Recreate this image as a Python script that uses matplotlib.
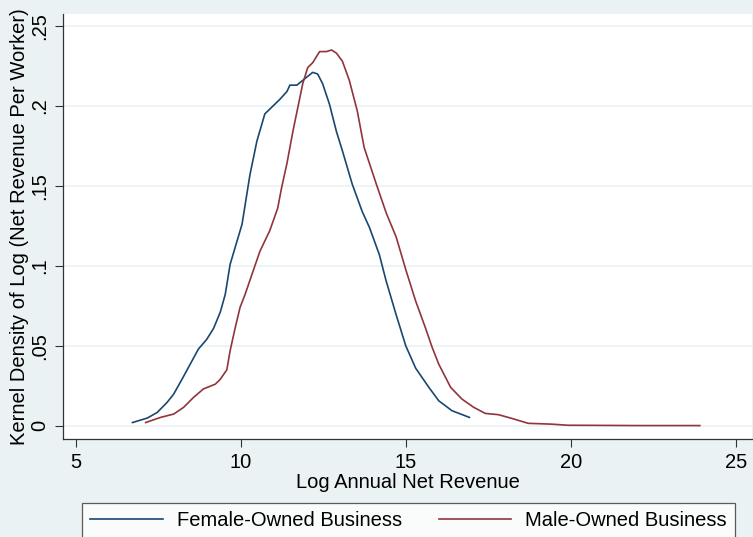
import numpy as np
import matplotlib.pyplot as plt

plt.rcParams['font.family'] = ['Liberation Sans', 'DejaVu Sans']

# female-owned density
fem_x = [6.71, 7.16, 7.46, 7.76, 7.96, 8.21, 8.46, 8.71, 8.96, 9.17, 9.37, 9.52,
         9.67, 10.03, 10.27, 10.48, 10.72, 10.87, 11.17, 11.39, 11.48, 11.69, 11.87,
         12.17, 12.32, 12.47, 12.68, 12.89, 13.07, 13.37, 13.67, 13.89, 14.19, 14.39,
         14.69, 14.99, 15.29, 15.69, 15.99, 16.39, 16.92]
fem_y = [0.002, 0.0048, 0.0083, 0.0146, 0.0198, 0.029, 0.0385, 0.048, 0.054, 0.061,
         0.071, 0.082, 0.101, 0.126, 0.157, 0.178, 0.195, 0.198, 0.204, 0.209, 0.213,
         0.213, 0.216, 0.221, 0.22, 0.214, 0.201, 0.184, 0.172, 0.151, 0.134, 0.124,
         0.107, 0.091, 0.07, 0.05, 0.036, 0.024, 0.0156, 0.0094, 0.0052]

# male-owned density
male_x = [7.11, 7.56, 7.96, 8.26, 8.56, 8.86, 9.22, 9.37, 9.57, 9.67, 9.82, 9.97,
          10.12, 10.27, 10.57, 10.87, 11.11, 11.23, 11.39, 11.57, 11.72, 11.87, 12.02,
          12.17, 12.38, 12.59, 12.74, 12.89, 13.07, 13.28, 13.52, 13.73, 14.1, 14.4,
          14.7, 15.0, 15.29, 15.59, 15.79, 15.99, 16.35, 16.69, 17.05, 17.4, 17.8,
          18.2, 18.7, 19.4, 19.9, 21.0, 22.0, 23.0, 23.9]
male_y = [0.002, 0.0052, 0.0073, 0.0115, 0.0177, 0.023, 0.026, 0.029, 0.035, 0.047,
          0.061, 0.074, 0.082, 0.091, 0.109, 0.122, 0.136, 0.149, 0.164, 0.184, 0.199,
          0.214, 0.224, 0.227, 0.234, 0.234, 0.235, 0.233, 0.228, 0.216, 0.197, 0.174,
          0.151, 0.133, 0.118, 0.097, 0.078, 0.061, 0.049, 0.0385, 0.024, 0.0167,
          0.0115, 0.0077, 0.0069, 0.0046, 0.0015, 0.001, 0.0003, 0.0002, 0.0001,
          0.0001, 0.0001]

xticks = [5, 10, 15, 20, 25]
yticks = [0, 0.05, 0.1, 0.15, 0.2, 0.25]
ytick_labels = ["0", ".05", ".1", ".15", ".2", ".25"]

bg = "#EAF2F3"
fs = 14.5
fig = plt.figure(figsize=(7.53, 5.37), dpi=100, facecolor=bg)
ax = fig.add_axes([63/753, 98/537, 689/753, 425/537])
ax.set_facecolor("white")

for y in yticks:
    ax.axhline(y, color=bg, lw=1.2, zorder=0)

ax.plot(fem_x, fem_y, color="#1A476F", lw=1.2, label="Female-Owned Business")
ax.plot(male_x, male_y, color="#90353B", lw=1.2, label="Male-Owned Business")

ax.set_xlim(4.606, 25.48)
ax.set_ylim(-0.0083, 0.2575)
ax.set_xticks(xticks)
ax.set_xticklabels([str(t) for t in xticks])
ax.set_yticks(yticks)
ax.set_yticklabels(ytick_labels, rotation=90, va="center")
ax.tick_params(axis="both", length=6, width=0.8, labelsize=fs, color="#333333")
ax.tick_params(axis="x", pad=4)
ax.tick_params(axis="y", pad=4)

for s in ["top", "right"]:
    ax.spines[s].set_visible(False)
for s in ["left", "bottom"]:
    ax.spines[s].set_color("#333333")
    ax.spines[s].set_linewidth(0.9)

ax.set_xlabel("Log Annual Net Revenue", fontsize=fs, labelpad=1)
ax.set_ylabel("Kernel Density of Log (Net Revenue Per Worker)", fontsize=fs, labelpad=1)

top = 1 - 503/537
leg = fig.legend(loc="upper left", bbox_to_anchor=(82/753, top - 0.05, 653/753, 0.05),
                 mode="expand", ncol=2, fontsize=fs, frameon=True, fancybox=False,
                 handlelength=3.6, handletextpad=0.7, borderpad=0.4,
                 borderaxespad=0, columnspacing=2.0)
leg.get_frame().set_edgecolor("#333333")
leg.get_frame().set_linewidth(0.9)
leg.get_frame().set_facecolor("white")

fig.savefig("out.png", dpi=100, facecolor=bg)
